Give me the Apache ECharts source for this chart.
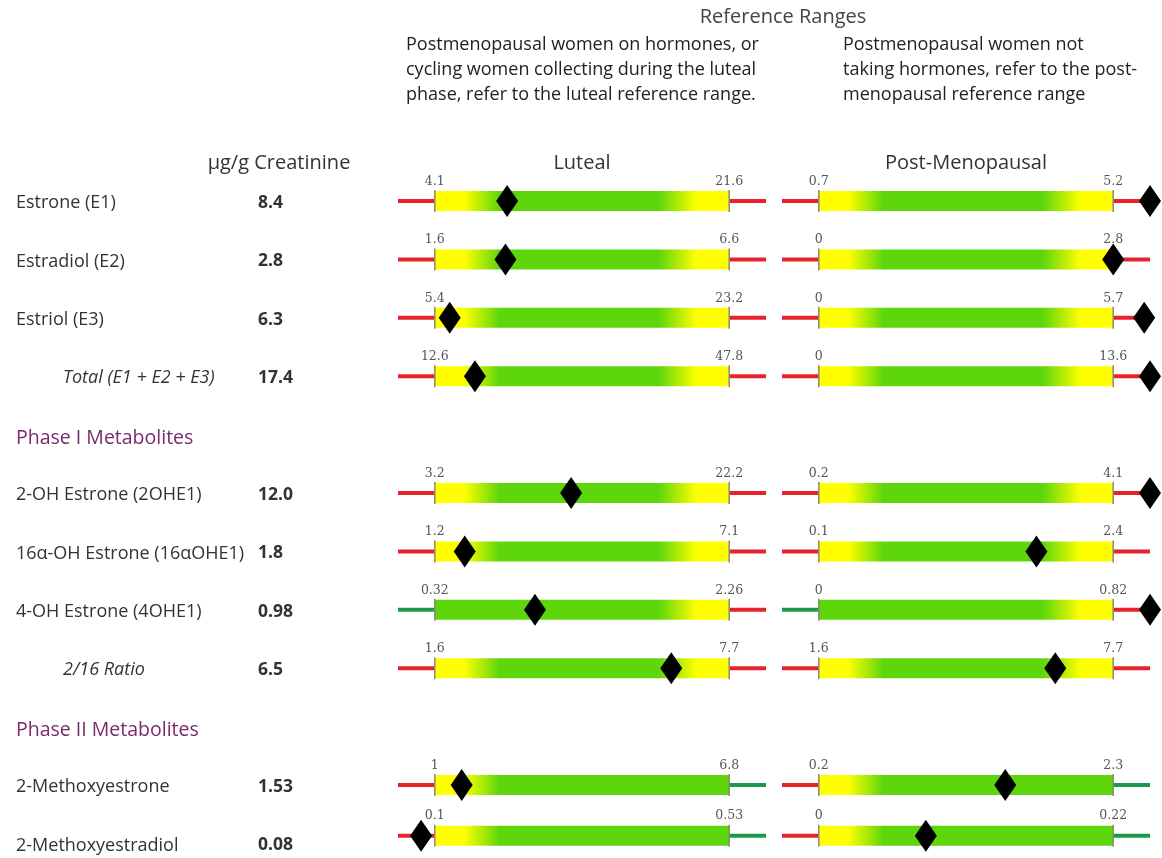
<!DOCTYPE html>
<html>
<head>
<meta charset="utf-8">
<script src="https://cdn.jsdelivr.net/npm/echarts@6/dist/echarts.min.js"></script>
<style>
html,body{margin:0;padding:0;background:#fff;}
#chart{width:1162px;height:858px;}
</style>
</head>
<body>
<div id="chart"></div>
<script>
// ---------- DATA ----------
const names = ['Estrone (E1)', 'Estradiol (E2)', 'Estriol (E3)', 'Total (E1 + E2 + E3)',
  '2-OH Estrone (2OHE1)', '16\u03b1-OH Estrone (16\u03b1OHE1)', '4-OH Estrone (4OHE1)', '2/16 Ratio',
  '2-Methoxyestrone', '2-Methoxyestradiol'];
const results = [8.4, 2.8, 6.3, 17.4, 12.0, 1.8, 0.98, 6.5, 1.53, 0.08];
const resultLabels = ['8.4', '2.8', '6.3', '17.4', '12.0', '1.8', '0.98', '6.5', '1.53', '0.08'];
const lutealLow = [4.1, 1.6, 5.4, 12.6, 3.2, 1.2, 0.32, 1.6, 1, 0.1];
const lutealHigh = [21.6, 6.6, 23.2, 47.8, 22.2, 7.1, 2.26, 7.7, 6.8, 0.53];
const postLow = [0.7, 0, 0, 0, 0.2, 0.1, 0, 1.6, 0.2, 0];
const postHigh = [5.2, 2.8, 5.7, 13.6, 4.1, 2.4, 0.82, 7.7, 2.3, 0.22];
// whether a result below / above the range is of concern
const lowConcern = [true, true, true, true, true, true, false, true, true, true];
const highConcern = [true, true, true, true, true, true, true, true, false, false];
const sectionTitles = ['Phase I Metabolites', 'Phase II Metabolites'];
const sectionBefore = [4, 8];
const unitLabel = '\u00b5g/g Creatinine';
const panelTitles = ['Luteal', 'Post-Menopausal'];
const headerTitle = 'Reference Ranges';
const noteLeft = ['Postmenopausal women on hormones, or', 'cycling women collecting during the luteal', 'phase, refer to the luteal reference range.'];
const noteRight = ['Postmenopausal women not', 'taking hormones, refer to the post-', 'menopausal reference range'];

// ---------- LAYOUT / STYLE ----------
const italicRows = [3, 7];
const FONT = '"Open Sans", Lato, sans-serif';
const RED = '#e8222a', GREENW = '#1c9a4c', YEL = '#ffff00', GRN = '#5ed60c';
const PAD = 0.125;
const firstY = 201, step = 58.4;
const panelLeft = [398, 782], panelWidth = 368;

function slotOf(i) {
  let s = i;
  sectionBefore.forEach(b => { if (i >= b) s++; });
  return s;
}
function rowY(i) { return firstY + slotOf(i) * step; }

const grids = [], xAxes = [], yAxes = [], series = [];
const panels = [[lutealLow, lutealHigh], [postLow, postHigh]];
let gi = 0;
names.forEach((n, i) => {
  panels.forEach((pr, p) => {
    const lo = pr[0][i], hi = pr[1][i];
    const span = hi - lo;
    const xmin = lo - PAD * span, xmax = hi + PAD * span;
    const y = rowY(i);
    grids.push({left: panelLeft[p], width: panelWidth, top: y - 30, height: 60});
    xAxes.push({type: 'value', gridIndex: gi, min: xmin, max: xmax, show: false});
    yAxes.push({type: 'value', gridIndex: gi, min: 0, max: 1, show: false});
    const lowC = lowConcern[i], highC = highConcern[i];
    series.push({
      type: 'custom', xAxisIndex: gi, yAxisIndex: gi, silent: true,
      data: [[lo, hi, xmin, xmax]],
      renderItem: function (params, api) {
        const a = api.coord([api.value(2), 0.5]);
        const L = api.coord([api.value(0), 0.5]);
        const H = api.coord([api.value(1), 0.5]);
        const b = api.coord([api.value(3), 0.5]);
        const cy = L[1];
        const hh = 10;
        const stops = [
          {offset: 0, color: lowC ? YEL : GRN},
          {offset: 0.1, color: lowC ? YEL : GRN},
          {offset: 0.22, color: GRN},
          {offset: 0.76, color: GRN},
          {offset: 0.89, color: highC ? YEL : GRN},
          {offset: 1, color: highC ? YEL : GRN}
        ];
        return {
          type: 'group',
          children: [
            {type: 'line', shape: {x1: a[0], y1: cy, x2: L[0], y2: cy}, style: {stroke: lowC ? RED : GREENW, lineWidth: 4}},
            {type: 'line', shape: {x1: H[0], y1: cy, x2: b[0], y2: cy}, style: {stroke: highC ? RED : GREENW, lineWidth: 4}},
            {type: 'rect', shape: {x: L[0], y: cy - hh, width: H[0] - L[0], height: 2 * hh},
              style: {fill: new echarts.graphic.LinearGradient(0, 0, 1, 0, stops)}},
            {type: 'line', shape: {x1: L[0], y1: cy - hh - 1, x2: L[0], y2: cy + hh + 1}, style: {stroke: '#8a8a70', lineWidth: 1.5}},
            {type: 'line', shape: {x1: H[0], y1: cy - hh - 1, x2: H[0], y2: cy + hh + 1}, style: {stroke: '#8a8a70', lineWidth: 1.5}},
            {type: 'text', style: {text: String(lo), x: L[0], y: cy - hh - 3, align: 'center', verticalAlign: 'bottom',
              fill: '#555', font: '12.5px "DejaVu Serif", serif'}},
            {type: 'text', style: {text: String(hi), x: H[0], y: cy - hh - 3, align: 'center', verticalAlign: 'bottom',
              fill: '#555', font: '12.5px "DejaVu Serif", serif'}}
          ]
        };
      }
    });
    const v = Math.min(Math.max(results[i], xmin), xmax);
    series.push({
      type: 'scatter', xAxisIndex: gi, yAxisIndex: gi, clip: false, silent: true,
      symbol: 'diamond', symbolSize: [22, 32],
      itemStyle: {color: '#000', opacity: 1},
      data: [[v, 0.5]], z: 5
    });
    gi++;
  });
});

// ---------- TEXT ----------
const graphics = [];
function txt(text, x, y, opts) {
  graphics.push({type: 'text', silent: true, style: Object.assign({
    text: text, x: x, y: y, fill: '#333', font: '16px ' + FONT, align: 'left', verticalAlign: 'middle'
  }, opts || {})});
}
txt(headerTitle, 783, 17, {align: 'center', fill: '#444', font: '20px ' + FONT});
noteLeft.forEach((t, k) => txt(t, 406, 45 + k * 25, {fill: '#222', font: '18px ' + FONT}));
noteRight.forEach((t, k) => txt(t, 843, 45 + k * 25, {fill: '#222', font: '18px ' + FONT}));
txt(unitLabel, 279, 163, {align: 'center', fill: '#333', font: '20px ' + FONT});
txt(panelTitles[0], 582, 163, {align: 'center', fill: '#333', font: '20px ' + FONT});
txt(panelTitles[1], 966, 163, {align: 'center', fill: '#333', font: '20px ' + FONT});
names.forEach((n, i) => {
  const it = italicRows.indexOf(i) >= 0;
  txt(n, it ? 63 : 16, rowY(i) + 2, {font: (it ? 'italic ' : '') + '18px ' + FONT});
  txt(resultLabels[i], 258, rowY(i) + 2, {font: 'bold 17.5px ' + FONT});
});
sectionTitles.forEach((t, k) => {
  const y = firstY + (sectionBefore[k] + k) * step + 4;
  txt(t, 16, y, {fill: '#7a2a6c', font: '19.5px ' + FONT});
});

const chart = echarts.init(document.getElementById('chart'));
chart.setOption({
  animation: false,
  backgroundColor: '#fff',
  grid: grids, xAxis: xAxes, yAxis: yAxes, series: series,
  graphic: graphics
});
</script>
</body>
</html>
